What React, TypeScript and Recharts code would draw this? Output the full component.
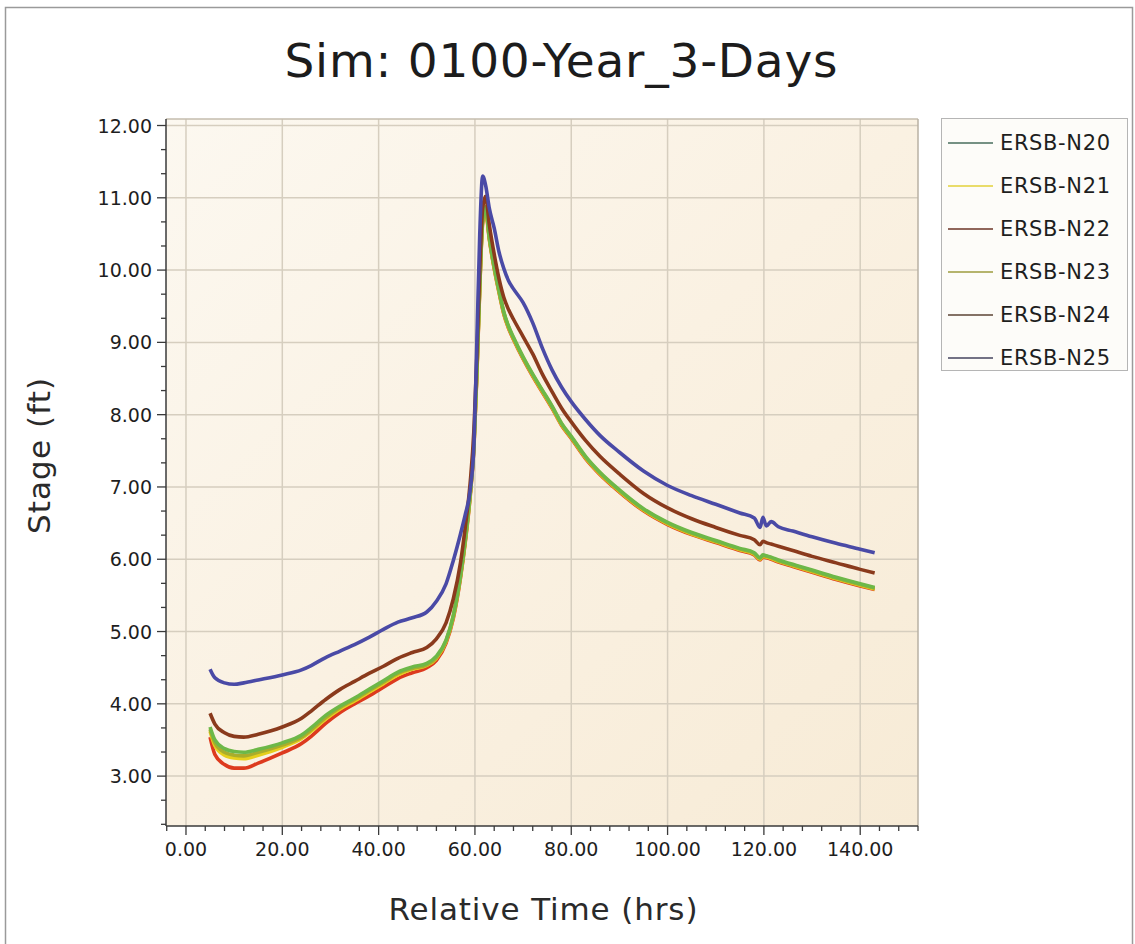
import { CartesianGrid, Line, LineChart, ReferenceLine, XAxis, YAxis } from "recharts";

// relative time (hrs) of the sampled points
const TIME = [
  5, 6, 8, 10, 12, 15, 20, 24, 26, 29, 32, 35, 38, 41, 44, 47, 50, 52, 54, 55.5, 57, 58, 59, 59.8,
  60.4, 61, 61.6, 62.2, 63, 64, 65, 66, 67, 68, 70, 72, 74, 76, 78, 80, 83, 86, 90, 95, 100, 105,
  110, 115, 118, 119.2, 119.8, 120.5, 121.5, 123, 126, 130, 135, 140, 143,
];

// stage (ft) per node
const N20 = [
  3.68, 3.5, 3.38, 3.34, 3.33, 3.37, 3.46, 3.57, 3.67, 3.84, 3.97, 4.08, 4.2, 4.32, 4.44, 4.51, 4.56, 4.66,
  4.88, 5.22, 5.78, 6.28, 6.9, 7.6, 8.6, 9.8, 10.7, 10.86, 10.45, 10.05, 9.72, 9.42, 9.22, 9.07, 8.8, 8.56,
  8.34, 8.12, 7.88, 7.7, 7.42, 7.2, 6.96, 6.7, 6.51, 6.37, 6.26, 6.15, 6.09, 6.02, 6.06, 6.05, 6.03, 5.99,
  5.93, 5.85, 5.75, 5.66, 5.61,
];
const N21 = [
  3.62, 3.42, 3.29, 3.25, 3.24, 3.29, 3.4, 3.52, 3.62, 3.79, 3.93, 4.04, 4.16, 4.28, 4.4, 4.48, 4.53, 4.63,
  4.86, 5.2, 5.76, 6.26, 6.88, 7.58, 8.57, 9.77, 10.67, 10.84, 10.43, 10.03, 9.7, 9.4, 9.2, 9.05, 8.78, 8.54,
  8.32, 8.1, 7.86, 7.68, 7.4, 7.18, 6.94, 6.68, 6.49, 6.35, 6.24, 6.13, 6.07, 6.0, 6.04, 6.03, 6.01, 5.97,
  5.91, 5.83, 5.73, 5.64, 5.59,
];
const N22 = [
  3.54, 3.3, 3.16, 3.11, 3.11, 3.18, 3.32, 3.45, 3.55, 3.73, 3.88, 4.0, 4.11, 4.23, 4.35, 4.43, 4.5, 4.6,
  4.84, 5.18, 5.74, 6.24, 6.86, 7.56, 8.55, 9.75, 10.65, 10.82, 10.42, 10.02, 9.69, 9.39, 9.19, 9.04, 8.77, 8.53,
  8.31, 8.09, 7.85, 7.67, 7.39, 7.17, 6.93, 6.67, 6.48, 6.34, 6.23, 6.12, 6.06, 5.99, 6.03, 6.02, 6.0, 5.96,
  5.9, 5.82, 5.72, 5.63, 5.58,
];
const N23 = [
  3.65, 3.46, 3.33, 3.29, 3.28, 3.33, 3.43, 3.54, 3.64, 3.81, 3.95, 4.06, 4.18, 4.3, 4.42, 4.49, 4.54, 4.64,
  4.87, 5.21, 5.77, 6.27, 6.89, 7.59, 8.59, 9.79, 10.69, 10.88, 10.44, 10.04, 9.71, 9.41, 9.21, 9.06, 8.79, 8.55,
  8.33, 8.11, 7.87, 7.69, 7.41, 7.19, 6.95, 6.69, 6.5, 6.36, 6.25, 6.14, 6.08, 6.01, 6.05, 6.04, 6.02, 5.98,
  5.92, 5.84, 5.74, 5.65, 5.6,
];
const N24 = [
  3.87, 3.72, 3.6, 3.55, 3.54, 3.58, 3.68, 3.8, 3.9, 4.06, 4.2, 4.31, 4.42, 4.52, 4.63, 4.71, 4.78, 4.9,
  5.12, 5.45, 5.95, 6.45, 7.05, 7.8, 8.8, 10.0, 10.85, 11.02, 10.62, 10.22, 9.88, 9.62, 9.45, 9.32, 9.08, 8.84,
  8.56, 8.32, 8.09, 7.9, 7.64, 7.42, 7.18, 6.91, 6.71, 6.56, 6.44, 6.33, 6.27, 6.2, 6.25, 6.23, 6.21, 6.18,
  6.12, 6.04, 5.95, 5.86, 5.81,
];
const N25 = [
  4.48, 4.36, 4.29, 4.27, 4.29, 4.33, 4.4, 4.47, 4.53, 4.64, 4.73, 4.82, 4.92, 5.03, 5.13, 5.19, 5.27, 5.42,
  5.66, 5.98, 6.35, 6.62, 6.95, 7.6, 9.0, 10.5, 11.3, 11.18, 10.85, 10.58, 10.25, 10.02, 9.85, 9.74, 9.55, 9.27,
  8.92, 8.62, 8.38, 8.18, 7.93, 7.71, 7.48, 7.22, 7.02, 6.88, 6.76, 6.64, 6.57, 6.44, 6.58, 6.46, 6.52, 6.45,
  6.39, 6.31, 6.22, 6.14, 6.09,
];

const X_MAJOR = [0, 20, 40, 60, 80, 100, 120, 140];
const Y_MAJOR = [3, 4, 5, 6, 7, 8, 9, 10, 11, 12];
const X_DOMAIN = [-4.15, 152];
const Y_DOMAIN = [2.31, 12.09];

// drawn bottom to top
const SERIES = [
  { key: "n22", name: "ERSB-N22", color: "#dd3a1e", legend: "#6b3526", values: N22 },
  { key: "n21", name: "ERSB-N21", color: "#e6cf1c", legend: "#e2d23a", values: N21 },
  { key: "n23", name: "ERSB-N23", color: "#a9ad2c", legend: "#9c9c3e", values: N23 },
  { key: "n20", name: "ERSB-N20", color: "#6db848", legend: "#476e5c", values: N20 },
  { key: "n24", name: "ERSB-N24", color: "#8a3a1c", legend: "#5b4535", values: N24 },
  { key: "n25", name: "ERSB-N25", color: "#4a4aa6", legend: "#44445e", values: N25 },
];
const LEGEND_ORDER = ["n20", "n21", "n22", "n23", "n24", "n25"];

const rows = TIME.map((t, i) => {
  const row: Record<string, number> = { t };
  SERIES.forEach((s) => (row[s.key] = s.values[i]));
  return row;
});

// minor ticks: every 4 hrs, every 1/3 ft
const xTicks: number[] = [];
for (let v = -4; v <= 152; v += 4) xTicks.push(v);
const yTicks: number[] = [];
for (let i = 7; i <= 36; i++) yTicks.push(i / 3);

const FONT = '"DejaVu Sans", Verdana, sans-serif';
const W = 1135;
const H = 944;

function XTick({ x, y, payload }: any) {
  const v = payload.value as number;
  const major = X_MAJOR.includes(v);
  return (
    <g>
      <line x1={x} x2={x} y1={y} y2={y + (major ? 9 : 5)} stroke="#3a3a3a" strokeWidth={1.3} />
      {major && (
        <text x={x} y={y + 30} textAnchor="middle" fontSize={19} fontFamily={FONT} fill="#1e1e1e">
          {v.toFixed(2)}
        </text>
      )}
    </g>
  );
}

function YTick({ x, y, payload }: any) {
  const v = payload.value as number;
  const major = Math.abs(v - Math.round(v)) < 1e-6;
  return (
    <g>
      <line x1={x - (major ? 9 : 5)} x2={x} y1={y} y2={y} stroke="#3a3a3a" strokeWidth={1.3} />
      {major && (
        <text x={x - 14} y={y + 7} textAnchor="end" fontSize={19} fontFamily={FONT} fill="#1e1e1e">
          {Math.round(v).toFixed(2)}
        </text>
      )}
    </g>
  );
}

function Legend() {
  return (
    <g>
      <rect x={941.5} y={118.5} width={186} height={252} fill="#fdfcf9" stroke="#b5b5b5" />
      {LEGEND_ORDER.map((k, i) => {
        const s = SERIES.find((d) => d.key === k)!;
        const cy = 143 + i * 43;
        return (
          <g key={k}>
            <line x1={948} x2={993} y1={cy} y2={cy} stroke={s.legend} strokeWidth={1.5} />
            <text x={1000} y={cy + 7} fontSize={21} fontFamily={FONT} fill="#1e1e1e" textLength={110}>
              {s.name}
            </text>
          </g>
        );
      })}
    </g>
  );
}

export default function App() {
  return (
    <div style={{ position: "absolute", left: 0, top: 0, width: W, height: H, background: "#fff" }}>
      <LineChart
        width={W}
        height={H}
        data={rows}
        margin={{ top: 119, right: W - 918, bottom: H - 826 - 40, left: 166 - 60 }}
        style={{ position: "absolute", left: 0, top: 0 }}
      >
        <defs>
          <linearGradient id="plotBg" x1="0" y1="0" x2="1" y2="1">
            <stop offset="0%" stopColor="#fcf8f0" />
            <stop offset="50%" stopColor="#faf1e2" />
            <stop offset="100%" stopColor="#f7ebd6" />
          </linearGradient>
        </defs>
        <CartesianGrid
          fill="url(#plotBg)"
          fillOpacity={1}
          stroke="#d6cebf"
          strokeWidth={1.5}
          verticalValues={X_MAJOR}
          horizontalValues={Y_MAJOR}
        />
        <ReferenceLine y={Y_DOMAIN[1]} stroke="#c4bcae" strokeWidth={1.5} />
        <ReferenceLine x={X_DOMAIN[1]} stroke="#b9b1a3" strokeWidth={1.5} />
        <XAxis
          dataKey="t"
          type="number"
          domain={X_DOMAIN}
          allowDataOverflow
          ticks={xTicks}
          interval={0}
          tickSize={0}
          tickMargin={0}
          tickLine={false}
          tick={<XTick />}
          height={40}
          axisLine={{ stroke: "#3a3a3a", strokeWidth: 1.5 }}
        />
        <YAxis
          type="number"
          domain={Y_DOMAIN}
          allowDataOverflow
          ticks={yTicks}
          interval={0}
          tickSize={0}
          tickMargin={0}
          tickLine={false}
          tick={<YTick />}
          width={60}
          axisLine={{ stroke: "#3a3a3a", strokeWidth: 1.5 }}
        />
        {SERIES.map((s) => (
          <Line
            key={s.key}
            type="monotone"
            dataKey={s.key}
            name={s.name}
            stroke={s.color}
            strokeWidth={3.6}
            dot={false}
            activeDot={false}
            isAnimationActive={false}
          />
        ))}
      </LineChart>
      <svg
        width={W}
        height={H}
        style={{ position: "absolute", left: 0, top: 0, pointerEvents: "none" }}
      >
        <rect x={5.5} y={7.5} width={1127} height={960} fill="none" stroke="#9a9a9a" strokeWidth={1.5} />
        <text x={561} y={77} textAnchor="middle" fontSize={47} fontFamily={FONT} fill="#1c1c1c" textLength={553}>
          Sim: 0100-Year_3-Days
        </text>
        <text x={543} y={920} textAnchor="middle" fontSize={31} fontFamily={FONT} fill="#2a2a2a" textLength={309}>
          Relative Time (hrs)
        </text>
        <text
          transform="translate(50,456) rotate(-90)"
          textAnchor="middle"
          fontSize={31}
          fontFamily={FONT}
          fill="#2a2a2a"
          textLength={156}
        >
          Stage (ft)
        </text>
        <Legend />
      </svg>
    </div>
  );
}
